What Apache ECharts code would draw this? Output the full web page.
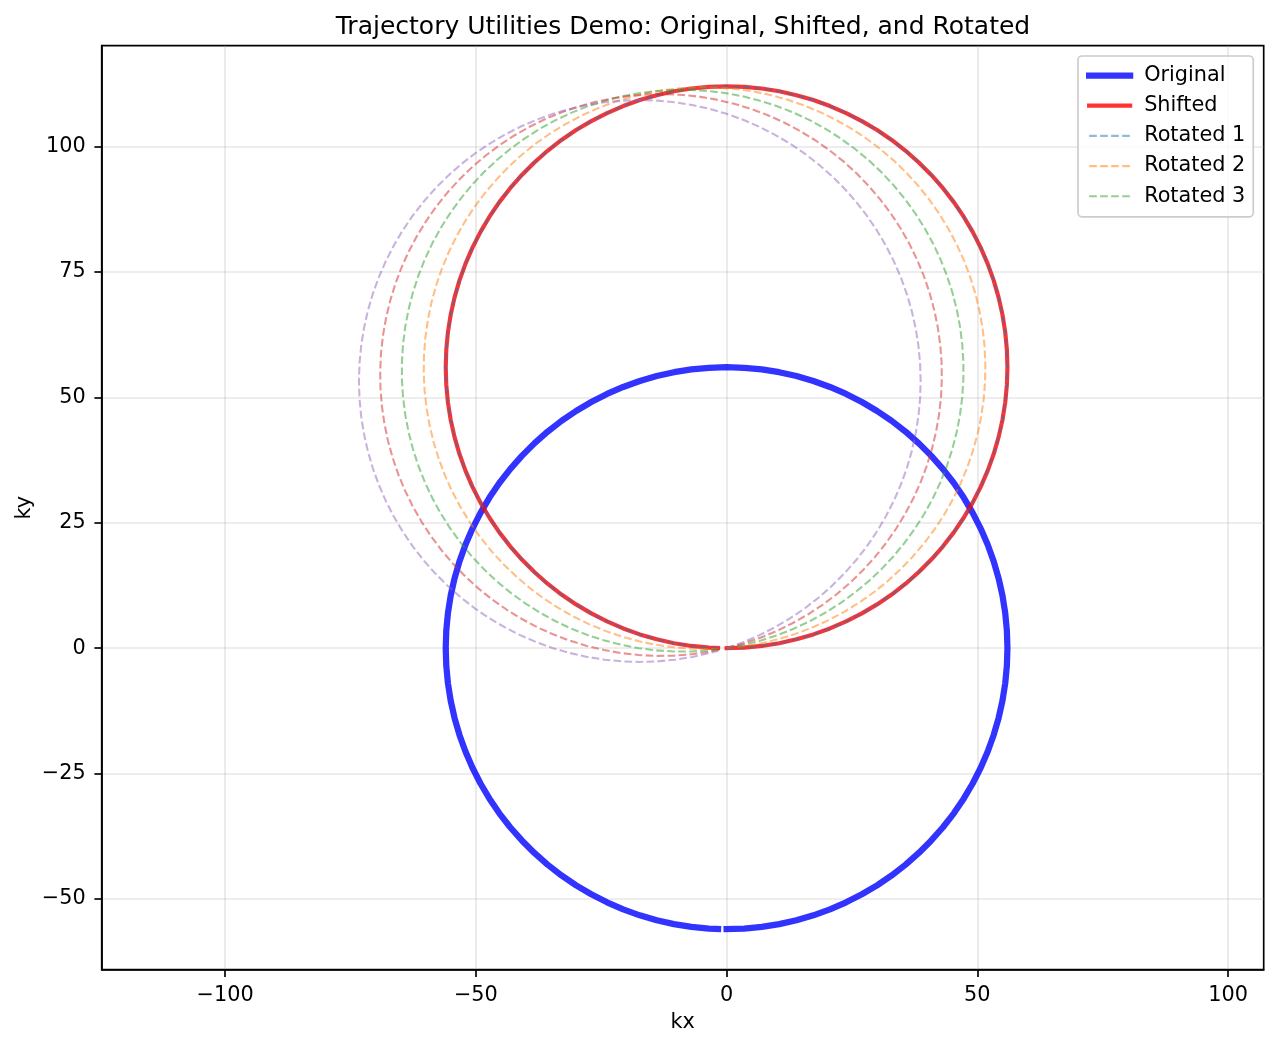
<!DOCTYPE html>
<html>
<head>
<meta charset="utf-8">
<script src="https://cdn.jsdelivr.net/npm/echarts@6/dist/echarts.min.js"></script>
<style>html,body{margin:0;padding:0;background:#fff}#c{width:1279px;height:1048px}</style>
</head>
<body>
<div id="c"></div>
<script>
// Original trajectory
const kx = [0, 3.52, 7.02, 10.49, 13.93, 17.31, 20.61, 23.84, 26.98, 30.01, 32.92, 35.70, 38.33, 40.82, 43.15, 45.31, 47.28, 49.07, 50.67, 52.07, 53.26, 54.24, 55.01, 55.56, 55.89, 56.00,
  55.89, 55.56, 55.01, 54.24, 53.26, 52.07, 50.67, 49.07, 47.28, 45.31, 43.15, 40.82, 38.33, 35.70, 32.92, 30.01, 26.98, 23.84, 20.61, 17.31, 13.93, 10.49, 7.02, 3.52, 0,
  -3.52, -7.02, -10.49, -13.93, -17.31, -20.61, -23.84, -26.98, -30.01, -32.92, -35.70, -38.33, -40.82, -43.15, -45.31, -47.28, -49.07, -50.67, -52.07, -53.26, -54.24, -55.01, -55.56, -55.89, -56.00,
  -55.89, -55.56, -55.01, -54.24, -53.26, -52.07, -50.67, -49.07, -47.28, -45.31, -43.15, -40.82, -38.33, -35.70, -32.92, -30.01, -26.98, -23.84, -20.61, -17.31, -13.93, -10.49, -7.02, -3.52, -1.70];
const ky = [-56.00, -55.89, -55.56, -55.01, -54.24, -53.26, -52.07, -50.67, -49.07, -47.28, -45.31, -43.15, -40.82, -38.33, -35.70, -32.92, -30.01, -26.98, -23.84, -20.61, -17.31, -13.93, -10.49, -7.02, -3.52, 0,
  3.52, 7.02, 10.49, 13.93, 17.31, 20.61, 23.84, 26.98, 30.01, 32.92, 35.70, 38.33, 40.82, 43.15, 45.31, 47.28, 49.07, 50.67, 52.07, 53.26, 54.24, 55.01, 55.56, 55.89, 56.00,
  55.89, 55.56, 55.01, 54.24, 53.26, 52.07, 50.67, 49.07, 47.28, 45.31, 43.15, 40.82, 38.33, 35.70, 32.92, 30.01, 26.98, 23.84, 20.61, 17.31, 13.93, 10.49, 7.02, 3.52, 0,
  -3.52, -7.02, -10.49, -13.93, -17.31, -20.61, -23.84, -26.98, -30.01, -32.92, -35.70, -38.33, -40.82, -43.15, -45.31, -47.28, -49.07, -50.67, -52.07, -53.26, -54.24, -55.01, -55.56, -55.89, -55.97];

// Demo operations
const shiftVector = [0, 56];
const rotationAnglesDeg = [0, 4.5, 9, 13.5, 18];
const rotationNames = ['Rotated 1', 'Rotated 2', 'Rotated 3', 'Rotated 4', 'Rotated 5'];
const legendNames = ['Original', 'Shifted', 'Rotated 1', 'Rotated 2', 'Rotated 3'];

// Tick labels
const xTickValues = [-100, -50, 0, 50, 100];
const yTickValues = [-50, -25, 0, 25, 50, 75, 100];

// Styles
const rotatedColors = ['rgba(31,119,180,0.5)', 'rgba(255,127,14,0.5)', 'rgba(44,160,44,0.5)', 'rgba(214,39,40,0.5)', 'rgba(148,103,189,0.5)'];

const original = kx.map((x, i) => [x, ky[i]]);
const shifted = original.map(p => [p[0] + shiftVector[0], p[1] + shiftVector[1]]);
const rotatedSets = rotationAnglesDeg.map(a => {
  const t = a * Math.PI / 180, c = Math.cos(t), s = Math.sin(t);
  return shifted.map(p => [p[0] * c - p[1] * s, p[0] * s + p[1] * c]);
});

const minus = v => String(v).replace('-', '\u2212');
const FONT = 'DejaVu Sans';
const FS = 20.8;

const series = [
  { name: 'Original', type: 'line', data: original, symbol: 'none', showSymbol: false, silent: true,
    lineStyle: { color: 'rgba(0,0,255,0.8)', width: 6.25, cap: 'square', join: 'round' }, itemStyle: { color: 'rgba(0,0,255,0.8)' } },
  { name: 'Shifted', type: 'line', data: shifted, symbol: 'none', showSymbol: false, silent: true,
    lineStyle: { color: 'rgba(255,0,0,0.8)', width: 4.17, cap: 'square', join: 'round' }, itemStyle: { color: 'rgba(255,0,0,0.8)' } }
].concat(rotatedSets.map((d, i) => ({
  name: rotationNames[i], type: 'line', data: d, symbol: 'none', showSymbol: false, silent: true,
  lineStyle: { color: rotatedColors[i], width: 2.08, type: [7.7, 3.3], cap: 'butt' }, itemStyle: { color: rotatedColors[i] }
})));

const chart = echarts.init(document.getElementById('c'), null, { renderer: 'canvas' });
chart.setOption({
  animation: false,
  backgroundColor: '#fff',
  textStyle: { fontFamily: FONT },
  title: {
    text: 'Trajectory Utilities Demo: Original, Shifted, and Rotated',
    left: 683, top: 15, textAlign: 'center', padding: 0,
    textStyle: { fontSize: 25, fontWeight: 'normal', color: '#000', fontFamily: FONT }
  },
  grid: { left: 101.7, top: 45.7, width: 1162, height: 924, show: true, borderColor: '#000', borderWidth: 1.67, backgroundColor: 'transparent', containLabel: false },
  legend: {
    data: legendNames, orient: 'vertical', left: 1078, top: 56,
    itemWidth: 41, itemHeight: 14, itemGap: 9.2, padding: [9, 8, 10, 8],
    backgroundColor: 'rgba(255,255,255,0.8)', borderColor: '#cccccc', borderWidth: 1.67, borderRadius: 4,
    selectedMode: false,
    itemStyle: { opacity: 0 },
    lineStyle: { width: 'inherit' },
    textStyle: { fontSize: FS, color: '#000', fontFamily: FONT, lineHeight: FS, padding: [0, 0, 0, 9] }
  },
  xAxis: {
    type: 'value', min: -124.6, max: 107.1, minInterval: 50, maxInterval: 50,
    name: 'kx', nameLocation: 'middle', nameGap: 42, nameMoveOverlap: false,
    nameTextStyle: { fontSize: FS, color: '#000', fontFamily: FONT },
    axisLine: { show: true, onZero: false, lineStyle: { color: '#000', width: 1.67 } },
    axisTick: { show: true, inside: false, length: 7.3, customValues: xTickValues, lineStyle: { color: '#000', width: 1.67 } },
    axisLabel: { show: true, margin: 15, fontSize: FS, color: '#000', fontFamily: FONT, customValues: xTickValues, formatter: minus },
    splitLine: { show: true, lineStyle: { color: 'rgba(176,176,176,0.3)', width: 1.67 } }
  },
  yAxis: {
    type: 'value', min: -64.1, max: 120.1, minInterval: 25, maxInterval: 25,
    name: 'ky', nameLocation: 'middle', nameGap: 67, nameMoveOverlap: false,
    nameTextStyle: { fontSize: FS, color: '#000', fontFamily: FONT },
    axisLine: { show: true, onZero: false, lineStyle: { color: '#000', width: 1.67 } },
    axisTick: { show: true, inside: false, length: 7.3, customValues: yTickValues, lineStyle: { color: '#000', width: 1.67 } },
    axisLabel: { show: true, margin: 16, fontSize: FS, color: '#000', fontFamily: FONT, customValues: yTickValues, formatter: minus },
    splitLine: { show: true, lineStyle: { color: 'rgba(176,176,176,0.3)', width: 1.67 } }
  },
  series: series
});
</script>
</body>
</html>
